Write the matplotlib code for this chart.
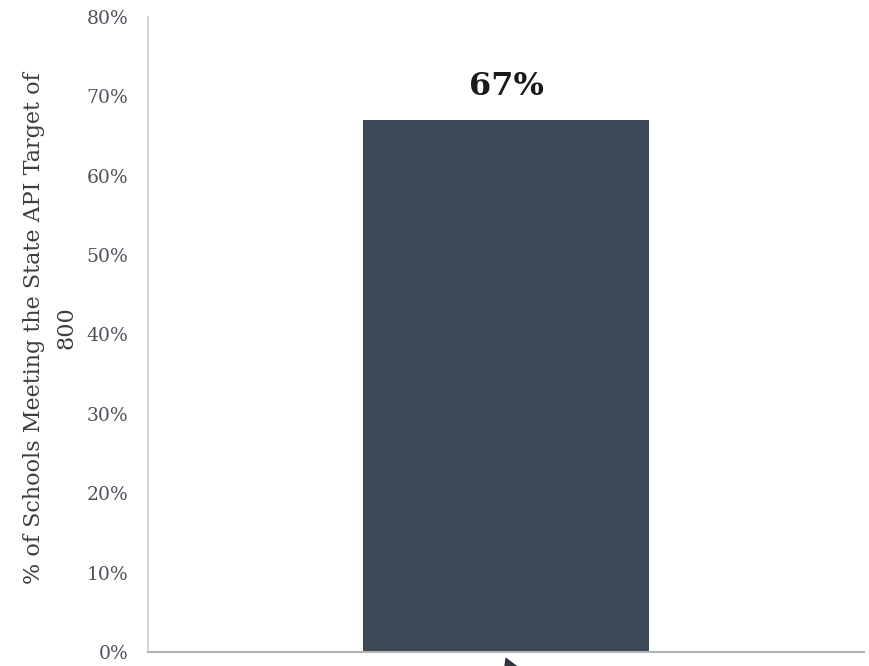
import matplotlib.pyplot as plt
from matplotlib import ticker

categories = ['']
share = [0.67]
bar_labels = ['67%']
yticks = [0, .1, .2, .3, .4, .5, .6, .7, .8]

bar_color = '#3c4a57'
tick_color = '#4d535a'

plt.rcParams['font.family'] = ['DejaVu Serif']
fig = plt.figure(figsize=(8.69, 6.66), dpi=100)
ax = fig.add_axes([0.1703, 0.021, 0.824, 0.9535])

x = range(len(categories))
bars = ax.bar(x, share, width=0.4, color=bar_color, edgecolor=bar_color, linewidth=0)
for b, lab in zip(bars, bar_labels):
    ax.annotate(lab, xy=(b.get_x() + b.get_width() / 2, b.get_height()),
                xytext=(0, 13), textcoords='offset points', ha='center', va='bottom',
                fontsize=23, fontweight='bold', color='#1a1a1a')

ax.set_xlim(-0.5, 0.5)
ax.set_ylim(0, 0.8)
ax.set_yticks(yticks)
ax.yaxis.set_major_formatter(ticker.PercentFormatter(xmax=1, decimals=0))
ax.set_xticks([])
ax.tick_params(axis='y', length=0, pad=14, labelsize=13.5, labelcolor=tick_color)

for side in ['top', 'right']:
    ax.spines[side].set_visible(False)
ax.spines['left'].set_color('#cfcfcf')
ax.spines['left'].set_linewidth(1.2)
ax.spines['bottom'].set_color('#b3b3b3')
ax.spines['bottom'].set_linewidth(1.5)

# axis title sits left of the tick labels, two lines
fig.text(0.058, 0.508, '% of Schools Meeting the State API Target of\n800',
         rotation=90, ha='center', va='center', multialignment='center',
         fontsize=16, color='#3a3f45', linespacing=1.6)

# pointer under the bar
ax.annotate('', xy=(0, -0.01), xycoords=('data', 'axes fraction'),
            xytext=(0.03, -0.09), textcoords=('data', 'axes fraction'),
            arrowprops=dict(facecolor='#2f3740', edgecolor='#2f3740',
                            width=4, headwidth=16, headlength=14),
            annotation_clip=False)

fig.savefig('out.png', dpi=100, facecolor='white')
